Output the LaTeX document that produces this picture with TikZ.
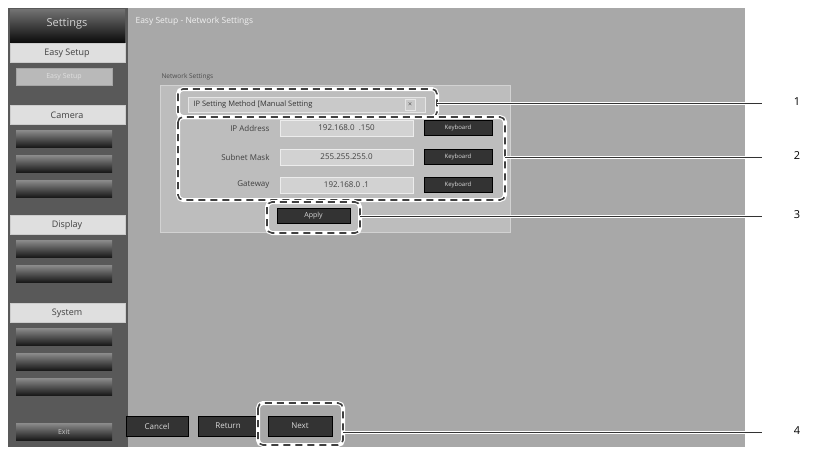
\documentclass[tikz,border=0pt]{standalone}
\usepackage{fontspec}
\setmainfont{Open Sans}
\begin{document}
\begin{tikzpicture}[x=1pt,y=-1pt,
 hdr/.style={fill=gray!25,draw=gray!40},
 btn/.style={fill=black!80,draw=black,text=gray!30,font=\fontsize{6}{7}\selectfont,inner sep=0pt},
 fld/.style={fill=gray!35,draw=white!85!gray,font=\fontsize{8}{9}\selectfont,text=black!75,inner sep=0pt},
 lbl/.style={font=\fontsize{8}{9}\selectfont,text=black!75,anchor=east},
 dsh/.style={rounded corners=5pt},
 lead/.style={draw=black!80,line width=0.8pt}]
\useasboundingbox (0,0) rectangle (820,451);
\fill[white] (0,0) rectangle (820,451);
% sidebar
\fill[black!65] (8,8) rectangle (128,447);
\shade[top color=black!55,bottom color=black!95] (10,9) rectangle (125,42);
\node[text=gray!35,font=\fontsize{11}{13}\selectfont] (set) at (67,24) {Settings};
\foreach \y/\t/\n in {43/Easy Setup/h1,105/Camera/h2,215/Display/h3,303/System/h4}{
  \draw[hdr] (10,\y) rectangle (125,\y+19);
  \node[font=\fontsize{9}{10}\selectfont,text=black!75] (\n) at (67,\y+10) {\t};}
\draw[fill=gray!55,draw=gray!70] (16,68) rectangle (112,85);
\node[font=\fontsize{7}{8}\selectfont,text=gray!25] (es) at (64,76.5) {Easy Setup};
\foreach \y in {130,155,180,240,265,328,353,378}{
  \shade[top color=black!45,bottom color=black!90] (16,\y) rectangle (112,\y+17);}
\shade[top color=black!45,bottom color=black!90] (16,423) rectangle (112,440);
\node[font=\fontsize{7}{8}\selectfont,text=gray!45] (exit) at (64,431.5) {Exit};
% main area
\fill[gray!68] (128,8) rectangle (745,447);
\node[anchor=west,font=\fontsize{8.5}{10}\selectfont,text=gray!12] (title) at (132,21) {Easy Setup - Network Settings};
\node[anchor=west,font=\fontsize{6.5}{8}\selectfont,text=black!70] (ns) at (158,77) {Network Settings};
\fill[gray!52,draw=gray!35] (160,85) rectangle (510,232);
% combo
\draw[fill=gray!42,draw=gray!20] (188,97) rectangle (425,112);
\node[anchor=west,font=\fontsize{7.5}{9}\selectfont,text=black!80] (ipm) at (190,104.5) {IP Setting Method [Manual Setting};
\draw[gray!20] (405,99) rectangle (415,110);
\node[font=\fontsize{5}{6}\selectfont] (arr) at (410,104.5) {$\times$};
% rows
\foreach \y/\a/\v/\n in {120/IP Address/192.168.0\ \ .150/r1,149/Subnet Mask/255.255.255.0/r2,177/Gateway/192.168.0\ .1/r3}{
  \node[lbl] (l\n) at (273,\y+8) {\a};
  \node[fld,minimum width=133pt,minimum height=16pt] (f\n) at (346.5,\y+8) {\v};
  \node[btn,minimum width=68pt,minimum height=15pt] (k\n) at (458,\y+8) {Keyboard};}
\node[btn,minimum width=73pt,minimum height=15pt,font=\fontsize{7}{8}\selectfont] (apply) at (313.5,215.5) {Apply};
% bottom buttons
\node[btn,minimum width=62pt,minimum height=20pt,font=\fontsize{8}{9}\selectfont] (cancel) at (157,426) {Cancel};
\node[btn,minimum width=60pt,minimum height=20pt,font=\fontsize{8}{9}\selectfont] (return) at (228,426) {Return};
\node[btn,minimum width=64pt,minimum height=20pt,font=\fontsize{8}{9}\selectfont] (next) at (300,426) {Next};
% dashed callouts
\foreach \a/\b/\c/\d/\n in {178/89/437/117/d1,178/117/505/200/d2,267/202/360/233/d3,258/403/343/445/d4}{
  \draw[white,line width=4pt,dsh] (\a,\b) rectangle (\c,\d);
  \draw[black!75,line width=1.6pt,dash pattern=on 7pt off 5pt,dsh] (\a,\b) rectangle (\c,\d);
  \coordinate (\n) at (\c,0);}
% leaders
\foreach \y/\c/\k in {103/d1/1,157/d2/2,216/d3/3,432/d4/4}{
  \coordinate (s\k) at (\c |- 0,\y);
  \coordinate (e\k) at (762,\y);
  \draw[white,line width=3pt] (s\k) -- (745,\y);
  \draw[lead] (s\k) -- (e\k);
  \node[font=\fontsize{11}{13}\selectfont] (n\k) at (797,\y-1) {\k};}
\end{tikzpicture}
\end{document}
